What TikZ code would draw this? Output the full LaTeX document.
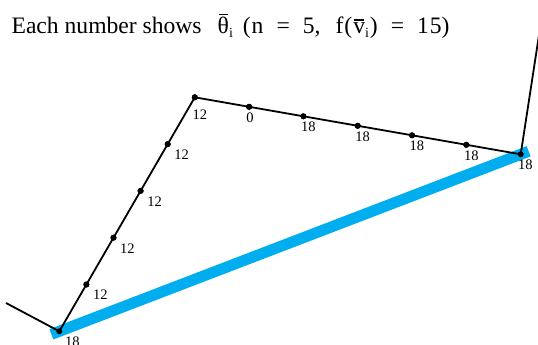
\documentclass[tikz,border=0pt]{standalone}
\usepackage{fontspec}
\setmainfont{Liberation Serif}
\definecolor{cyanline}{RGB}{0,174,239}
\newcommand\barchar[1]{\setbox0\hbox{#1}\rlap{\hbox to\wd0{\hss\raisebox{\dimexpr\ht0+2.5pt\relax}{\rule{0.85\wd0}{1.2pt}}\hss}}\box0}
\newcommand\lowi[1]{\raisebox{-3.5pt}{\fontsize{14}{14}\selectfont #1}}
\begin{document}
\begin{tikzpicture}[x=1pt,y=-1pt,
  dot/.style={circle,fill=black,inner sep=0pt,minimum size=6pt},
  edge/.style={draw=black,line width=1.8pt},
  hl/.style={draw=cyanline,line width=11pt,line cap=rect,shorten <=-3pt,shorten >=-3pt},
  lab/.style={anchor=north west,inner sep=0pt,font=\fontsize{14.5}{14.5}\selectfont},
  title/.style={anchor=base west,inner sep=0pt,font=\fontsize{23.6}{26}\selectfont}]
\path[use as bounding box, clip] (0,0) rectangle (538,345);

% vertices and dots
\node[dot] (A)  at (59.3,331.3) {};
\node[dot] (p1) at (86.4,284.5) {};
\node[dot] (p2) at (113.5,237.7) {};
\node[dot] (p3) at (140.6,190.9) {};
\node[dot] (p4) at (167.7,144.1) {};
\node[dot] (B)  at (194.8,97.3) {};
\node[dot] (q1) at (249.1,106.8) {};
\node[dot] (q2) at (303.4,116.3) {};
\node[dot] (q3) at (357.7,125.8) {};
\node[dot] (q4) at (412.0,135.3) {};
\node[dot] (q5) at (466.3,144.8) {};
\node[dot] (C)  at (520.7,154.3) {};
\coordinate (L) at (6,303);
\coordinate (R) at (541.3,20);

% highlighted chord
\draw[hl] (A.center) -- (C.center);

% polyline
\draw[edge] (L) -- (A.center) -- (B.center) -- (C.center) -- (R);

% redraw dots on top
\foreach \n in {A,p1,p2,p3,p4,B,q1,q2,q3,q4,q5,C}
  \fill (\n.center) circle (3pt);

% labels
\node[lab] (lA)  at ([shift={(5.7,5.4)}]A.center) {18};
\node[lab] (l1)  at ([shift={(6.5,5)}]p1.center) {12};
\node[lab] (l2)  at ([shift={(6.5,5.5)}]p2.center) {12};
\node[lab] (l3)  at ([shift={(6.5,5.5)}]p3.center) {12};
\node[lab] (l4)  at ([shift={(6.5,5.5)}]p4.center) {12};
\node[lab] (lB)  at ([shift={(-2.3,12.7)}]B.center) {12};
\node[lab] (m1)  at ([shift={(-3,5.6)}]q1.center) {0};
\node[lab] (m2)  at ([shift={(-2.5,5.5)}]q2.center) {18};
\node[lab] (m3)  at ([shift={(-2.5,5.5)}]q3.center) {18};
\node[lab] (m4)  at ([shift={(-2.5,5.5)}]q4.center) {18};
\node[lab] (m5)  at ([shift={(-2.5,5.5)}]q5.center) {18};
\node[lab] (lC)  at ([shift={(-2.7,5)}]C.center) {18};

% title
\node[title] (t1) at (11.4,34) {Each number shows};
\node[title] (t2) at (217.5,34) {\barchar{θ}\lowi{i}\hspace{10pt}(\hspace{1pt}n\hspace{13pt}=\hspace{13pt}5,\hspace{15pt}f\hspace{1pt}(\hspace{1pt}\barchar{v}\lowi{i}\hspace{1pt})\hspace{13pt}=\hspace{13pt}1\hspace{1pt}5)};
\end{tikzpicture}
\end{document}
